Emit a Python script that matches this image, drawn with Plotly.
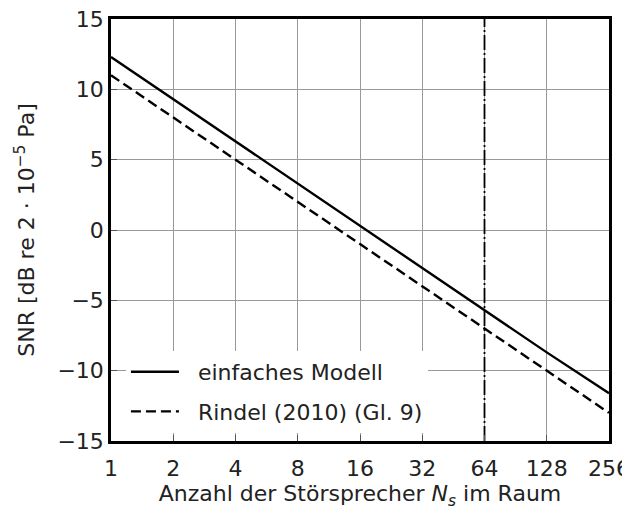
import plotly.graph_objects as go
import math

N = [1, 2, 4, 8, 16, 32, 64, 128, 256]
snr_simple = [12.3, 9.3, 6.3, 3.3, 0.3, -2.7, -5.7, -8.7, -11.6]
snr_rindel = [11.0, 8.0, 5.0, 2.0, -1.0, -4.0, -7.0, -10.0, -13.0]
x_ticks = [1, 2, 4, 8, 16, 32, 64, 128, 256]
x_ticklabels = ["1", "2", "4", "8", "16", "32", "64", "128", "256"]
y_ticks = [-15, -10, -5, 0, 5, 10, 15]
y_ticklabels = ["\u221215", "\u221210", "\u22125", "0", "5", "10", "15"]
n_limit = 64

font = "DejaVu Sans"
fs = 22
pad = "\u00a0\u00a0"

fig = go.Figure()
fig.add_trace(go.Scatter(x=N, y=snr_simple, mode="lines", name=pad + "einfaches Modell",
                         legendgroup="a",
                         line=dict(color="black", width=2.4)))
fig.add_trace(go.Scatter(x=N, y=snr_rindel, mode="lines", name=pad + "Rindel (2010) (Gl. 9)",
                         legendgroup="b",
                         line=dict(color="black", width=2.4, dash="10px,5px")))
fig.add_trace(go.Scatter(x=[n_limit, n_limit], y=[-15, 15], mode="lines", showlegend=False,
                         line=dict(color="black", width=1.8, dash="15px,3px,2px,3px")))

fig.update_layout(
    width=622, height=502,
    margin=dict(l=103, r=21, t=11, b=69, autoexpand=False),
    paper_bgcolor="white", plot_bgcolor="white",
    font=dict(family=font, size=fs, color="#222222"),
    showlegend=True,
    legend=dict(x=0.030, y=0.019, xanchor="left", yanchor="bottom",
                bgcolor="white", borderwidth=0,
                font=dict(family=font, size=fs, color="#222222"),
                itemwidth=48, tracegroupgap=8),
)
fig.update_xaxes(
    type="log", range=[0, math.log10(256)],
    tickvals=x_ticks, ticktext=x_ticklabels,
    showgrid=True, gridcolor="#999999", gridwidth=1,
    showline=True, linecolor="black", linewidth=2.5, mirror=True,
    ticks="inside", ticklen=6, tickcolor="#555555",
    tickfont=dict(size=fs), automargin=False,
    ticklabelstandoff=6, ticklabeloverflow="allow",
    title=dict(text="Anzahl der Störsprecher <i>N<sub>s</sub></i> im Raum", standoff=22,
               font=dict(size=fs)),
    zeroline=False,
)
fig.update_yaxes(
    range=[-15, 15],
    tickvals=y_ticks, ticktext=y_ticklabels,
    showgrid=True, gridcolor="#999999", gridwidth=1,
    showline=True, linecolor="black", linewidth=2.5, mirror=True,
    ticks="inside", ticklen=6, tickcolor="#555555",
    tickfont=dict(size=fs), automargin=False,
    ticklabeloverflow="allow",
    title=dict(text="SNR [dB re 2 · 10<sup>\u22125</sup> Pa]", standoff=17,
               font=dict(size=fs)),
    zeroline=False,
)

fig.write_html("out.html")
